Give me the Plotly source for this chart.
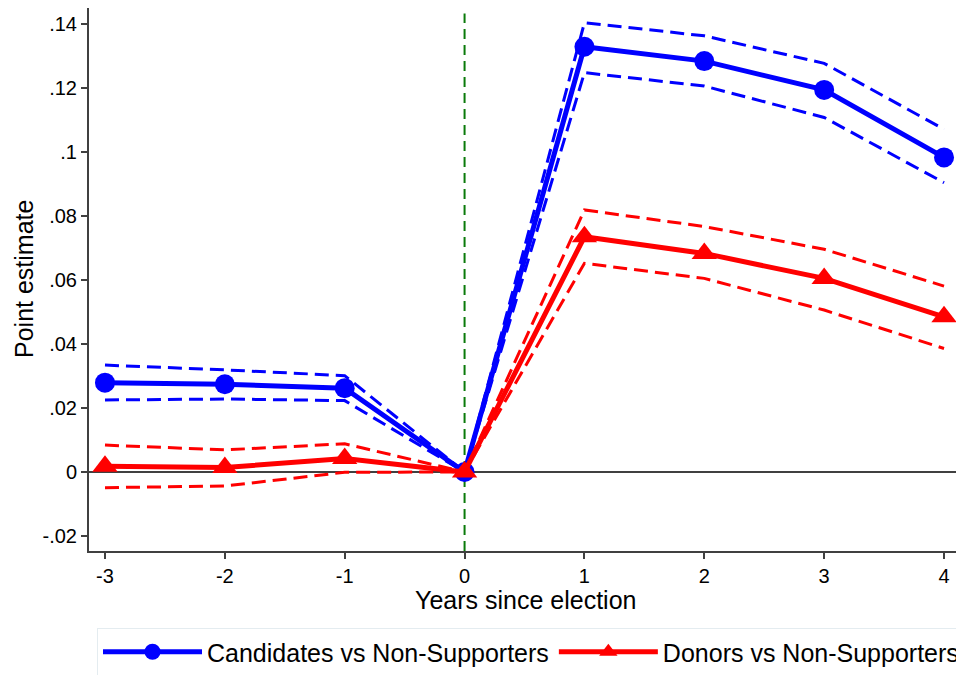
import plotly.graph_objects as go

years = [-3, -2, -1, 0, 1, 2, 3, 4]

cand_est = [0.0279, 0.0274, 0.0262, 0.0, 0.1329, 0.1284, 0.1194, 0.0983]
cand_hi = [0.0334, 0.0319, 0.0301, 0.0, 0.1404, 0.1363, 0.1277, 0.1071]
cand_lo = [0.0225, 0.0228, 0.0223, 0.0, 0.1248, 0.1206, 0.1108, 0.0904]

don_est = [0.0018, 0.0014, 0.0042, 0.0, 0.0735, 0.0683, 0.0605, 0.0485]
don_hi = [0.0084, 0.0069, 0.0088, 0.0, 0.0819, 0.0767, 0.0696, 0.0581]
don_lo = [-0.0049, -0.0044, -0.0001, 0.0, 0.0652, 0.0605, 0.0506, 0.0386]

ytick_vals = [-0.02, 0, 0.02, 0.04, 0.06, 0.08, 0.1, 0.12, 0.14]
ytick_text = ["-.02", "0", ".02", ".04", ".06", ".08", ".1", ".12", ".14"]
xtick_vals = [-3, -2, -1, 0, 1, 2, 3, 4]
xtick_text = ["-3", "-2", "-1", "0", "1", "2", "3", "4"]

BLUE = "#0000ff"
RED = "#ff0000"
FONT = "Liberation Sans, Arial, Helvetica, sans-serif"

# page body adds an 8px offset; figure is sized to the visible area
OFF = 8
W, H = 964 - OFF, 675 - OFF
ML, MR, MT, MB = 89 - OFF, 0, 0, 124
PW, PH = W - ML - MR, H - MT - MB


def px_x(p):
    return (p - OFF - ML) / PW


def px_y(p):
    return (H - MB - (p - OFF)) / PH


fig = go.Figure()

for ys, col in [(cand_hi, BLUE), (cand_lo, BLUE), (don_hi, RED), (don_lo, RED)]:
    fig.add_trace(go.Scatter(
        x=years, y=ys, mode="lines",
        line=dict(color=col, width=3, dash="14px,7px"),
        showlegend=False, hoverinfo="skip"))

fig.add_trace(go.Scatter(
    x=years, y=cand_est, mode="lines+markers",
    name="Candidates vs Non-Supporters",
    line=dict(color=BLUE, width=5),
    marker=dict(symbol="circle", size=20, color=BLUE)))

fig.add_trace(go.Scatter(
    x=years, y=don_est, mode="lines+markers",
    name="Donors vs Non-Supporters",
    line=dict(color=RED, width=5),
    marker=dict(symbol="triangle-up", size=22, color=RED)))

# zero line and election line
fig.add_shape(type="line", xref="paper", x0=0, x1=1, yref="y", y0=0, y1=0,
              line=dict(color="#404040", width=2), layer="below")
fig.add_shape(type="line", xref="x", x0=0, x1=0, yref="paper", y0=0, y1=0.99,
              line=dict(color="#0a7a0a", width=2, dash="10px,6px"), layer="below")

fig.add_annotation(text="Years since election", xref="paper", yref="paper",
                   x=px_x(525), y=px_y(600), xanchor="center", yanchor="middle",
                   showarrow=False, font=dict(size=25))
fig.add_annotation(text="Point estimate", xref="paper", yref="paper",
                   x=px_x(24), y=px_y(279), xanchor="center", yanchor="middle",
                   textangle=-90, showarrow=False, font=dict(size=25))

fig.update_layout(
    width=W, height=H,
    margin=dict(l=ML, r=MR, t=MT, b=MB, autoexpand=False),
    paper_bgcolor="white", plot_bgcolor="white",
    font=dict(family=FONT, color="#000000", size=20),
    xaxis=dict(
        range=[-3.1333, 4.1667], automargin=False,
        tickmode="array", tickvals=xtick_vals, ticktext=xtick_text,
        ticks="outside", ticklen=6, tickwidth=1.5, tickcolor="#404040",
        showline=True, linecolor="#404040", linewidth=2,
        showgrid=False, zeroline=False,
        tickfont=dict(size=20),
    ),
    yaxis=dict(
        range=[-0.0247, 0.145], automargin=False,
        tickmode="array", tickvals=ytick_vals, ticktext=ytick_text,
        ticks="outside", ticklen=6, tickwidth=1.5, tickcolor="#404040",
        showline=True, linecolor="#404040", linewidth=2,
        showgrid=False, zeroline=False,
        tickfont=dict(size=20),
    ),
    legend=dict(
        orientation="h",
        x=px_x(97), xanchor="left",
        y=px_y(628), yanchor="top",
        bordercolor="#e4ecf0", borderwidth=1,
        bgcolor="white",
        font=dict(size=25),
        itemwidth=99,
        traceorder="normal",
    ),
)

fig.write_html("out.html")
